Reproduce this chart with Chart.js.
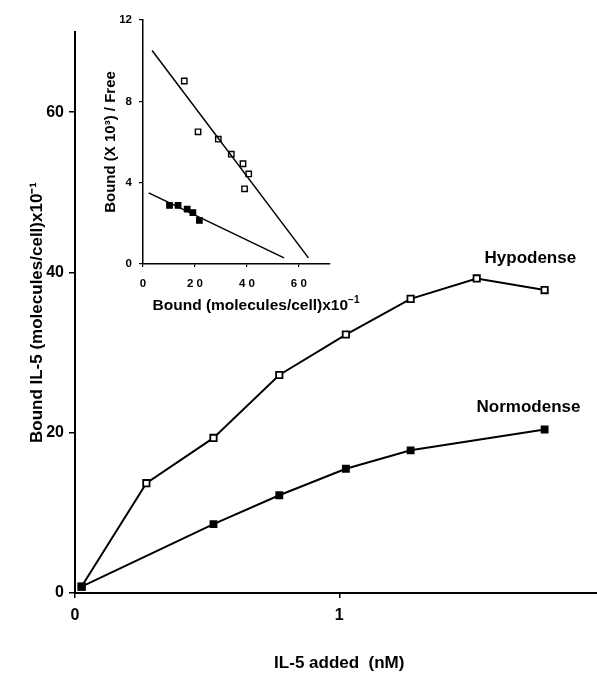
<!DOCTYPE html>
<html>
<head>
<meta charset="utf-8">
<script src="https://cdn.jsdelivr.net/npm/chart.js@4.4.1/dist/chart.umd.min.js"></script>
<style>
  body { margin: 0; background: #fff; overflow: hidden; }
  #wrap { position: relative; width: 616px; height: 677px; }
  #main { position: absolute; left: 0; top: 0; }
  #inset { position: absolute; left: 90px; top: 0; }
  #insetTitle {
    position: absolute; left: 256px; top: 304px; transform: translate(-50%, -50%);
    font: bold 15.5px "Liberation Sans", Arial, sans-serif; white-space: nowrap; color: #000;
  }
  #insetTitle sup { font-size: 10px; }
</style>
</head>
<body>
<div id="wrap">
  <canvas id="main" width="616" height="677"></canvas>
  <canvas id="inset" width="250" height="320"></canvas>
  <div id="insetTitle">Bound (molecules/cell)x10<sup>−1</sup></div>
</div>
<script>
// main plot: IL-5 added (nM) vs bound
const hypoDose = [0.025, 0.27, 0.524, 0.773, 1.025, 1.27, 1.52, 1.777];
const hypodense = [0.8, 13.7, 19.35, 27.2, 32.25, 36.7, 39.25, 37.8];
const normoDose = [0.025, 0.524, 0.773, 1.025, 1.27, 1.777];
const normodense = [0.8, 8.6, 12.2, 15.5, 17.8, 20.4];
const mainXTicks = [0, 1, 2];
const mainYTicks = [0, 20, 40, 60];

// inset: Scatchard plot
const scatHypoX = [15.9, 21.2, 29.0, 34.0, 38.5, 40.7, 39.1];
const scatHypoY = [9.0, 6.5, 6.14, 5.4, 4.93, 4.43, 3.7];
const scatNormoX = [10.2, 13.5, 17.0, 19.2, 21.7];
const scatNormoY = [2.88, 2.88, 2.7, 2.53, 2.14];
const fitHypoX = [3.5, 63.7];
const fitHypoY = [10.5, 0.3];
const fitNormoX = [2.2, 54.3];
const fitNormoY = [3.5, 0.3];
const insetXTicks = [0, 20, 40, 60];
const insetYTicks = [0, 4, 8, 12];

const seriesNames = [
  { text: 'Hypodense', x: 1.723, y: 41.7 },
  { text: 'Normodense', x: 1.716, y: 23.2 }
];

const FONT = '"Liberation Sans", Arial, sans-serif';
const pts = (xs, ys) => xs.map((x, i) => ({ x: x, y: ys[i] }));

const seriesLabelPlugin = {
  id: 'seriesLabels',
  afterDatasetsDraw(chart) {
    const c = chart.ctx;
    c.save();
    c.font = 'bold 17px ' + FONT;
    c.fillStyle = '#000';
    c.textAlign = 'center';
    c.textBaseline = 'middle';
    seriesNames.forEach(s => {
      c.fillText(s.text, chart.scales.x.getPixelForValue(s.x), chart.scales.y.getPixelForValue(s.y));
    });
    c.restore();
  }
};

new Chart(document.getElementById('main'), {
  type: 'scatter',
  data: {
    datasets: [
      {
        data: pts(hypoDose, hypodense), showLine: true,
        borderColor: '#000', borderWidth: 2,
        pointStyle: 'rect', pointRadius: 4.5, pointBorderWidth: 1.8,
        pointBackgroundColor: '#fff', pointBorderColor: '#000', order: 2
      },
      {
        data: pts(normoDose, normodense), showLine: true,
        borderColor: '#000', borderWidth: 2,
        pointStyle: 'rect', pointRadius: 4.5, pointBorderWidth: 1.5,
        pointBackgroundColor: '#000', pointBorderColor: '#000', order: 1
      }
    ]
  },
  options: {
    responsive: false, animation: false,
    layout: { padding: { top: 32, right: 1, left: 0, bottom: 0 } },
    plugins: { legend: { display: false }, tooltip: { enabled: false } },
    scales: {
      x: {
        type: 'linear', min: 0, max: 2,
        afterBuildTicks: s => { s.ticks = mainXTicks.map(v => ({ value: v })); },
        afterFit: s => { s.height = 84; },
        border: { display: true, color: '#000', width: 2 },
        grid: { drawOnChartArea: false, color: '#000', lineWidth: 1.5, tickLength: 5 },
        ticks: { color: '#000', font: { family: FONT, size: 16, weight: 'bold' }, padding: 8, maxRotation: 0 },
        title: { display: true, text: 'IL-5 added  (nM)', color: '#000',
                 font: { family: FONT, size: 17, weight: 'bold' }, padding: { top: 0, bottom: 3 } }
      },
      y: {
        type: 'linear', min: 0, max: 70,
        afterBuildTicks: s => { s.ticks = mainYTicks.map(v => ({ value: v })); },
        afterFit: s => { s.width = 75; },
        border: { display: true, color: '#000', width: 2 },
        grid: { drawOnChartArea: false, color: '#000', lineWidth: 1.5, tickLength: 6 },
        ticks: { color: '#000', font: { family: FONT, size: 16, weight: 'bold' }, padding: 5 },
        title: { display: true, text: 'Bound IL-5 (molecules/cell)x10⁻¹', color: '#000',
                 font: { family: FONT, size: 17, weight: 'bold' }, padding: { top: 27, bottom: 0 } }
      }
    }
  },
  plugins: [seriesLabelPlugin]
});

new Chart(document.getElementById('inset'), {
  type: 'scatter',
  data: {
    datasets: [
      { data: pts(fitHypoX, fitHypoY), showLine: true, borderColor: '#000', borderWidth: 1.5, pointRadius: 0 },
      { data: pts(fitNormoX, fitNormoY), showLine: true, borderColor: '#000', borderWidth: 1.5, pointRadius: 0 },
      { data: pts(scatHypoX, scatHypoY), pointStyle: 'rect', pointRadius: 3.8, pointBorderWidth: 1.4,
        pointBackgroundColor: '#fff', pointBorderColor: '#000' },
      { data: pts(scatNormoX, scatNormoY), pointStyle: 'rect', pointRadius: 3.8, pointBorderWidth: 1.4,
        pointBackgroundColor: '#000', pointBorderColor: '#000' }
    ]
  },
  options: {
    responsive: false, animation: false,
    layout: { padding: { top: 20, right: 10, left: 0, bottom: 0 } },
    plugins: { legend: { display: false }, tooltip: { enabled: false } },
    scales: {
      x: {
        type: 'linear', min: 0, max: 72,
        afterBuildTicks: s => { s.ticks = insetXTicks.map(v => ({ value: v })); },
        afterFit: s => { s.height = 56; },
        border: { display: true, color: '#000', width: 1.5 },
        grid: { drawOnChartArea: false, color: '#000', lineWidth: 1.2, tickLength: 3 },
        ticks: { color: '#000', font: { family: FONT, size: 11.5, weight: 'bold' }, padding: 10, maxRotation: 0,
                 callback: v => String(v).split('').join(' ') }
      },
      y: {
        type: 'linear', min: 0, max: 12,
        afterBuildTicks: s => { s.ticks = insetYTicks.map(v => ({ value: v })); },
        afterFit: s => { s.width = 53; },
        border: { display: true, color: '#000', width: 1.5 },
        grid: { drawOnChartArea: false, color: '#000', lineWidth: 1.2, tickLength: 4 },
        ticks: { color: '#000', font: { family: FONT, size: 11.5, weight: 'bold' }, padding: 7 },
        title: { display: true, text: 'Bound (X 10³) / Free', color: '#000',
                 font: { family: FONT, size: 15, weight: 'bold' }, padding: { top: 12, bottom: 0 } }
      }
    }
  }
});
</script>
</body>
</html>
